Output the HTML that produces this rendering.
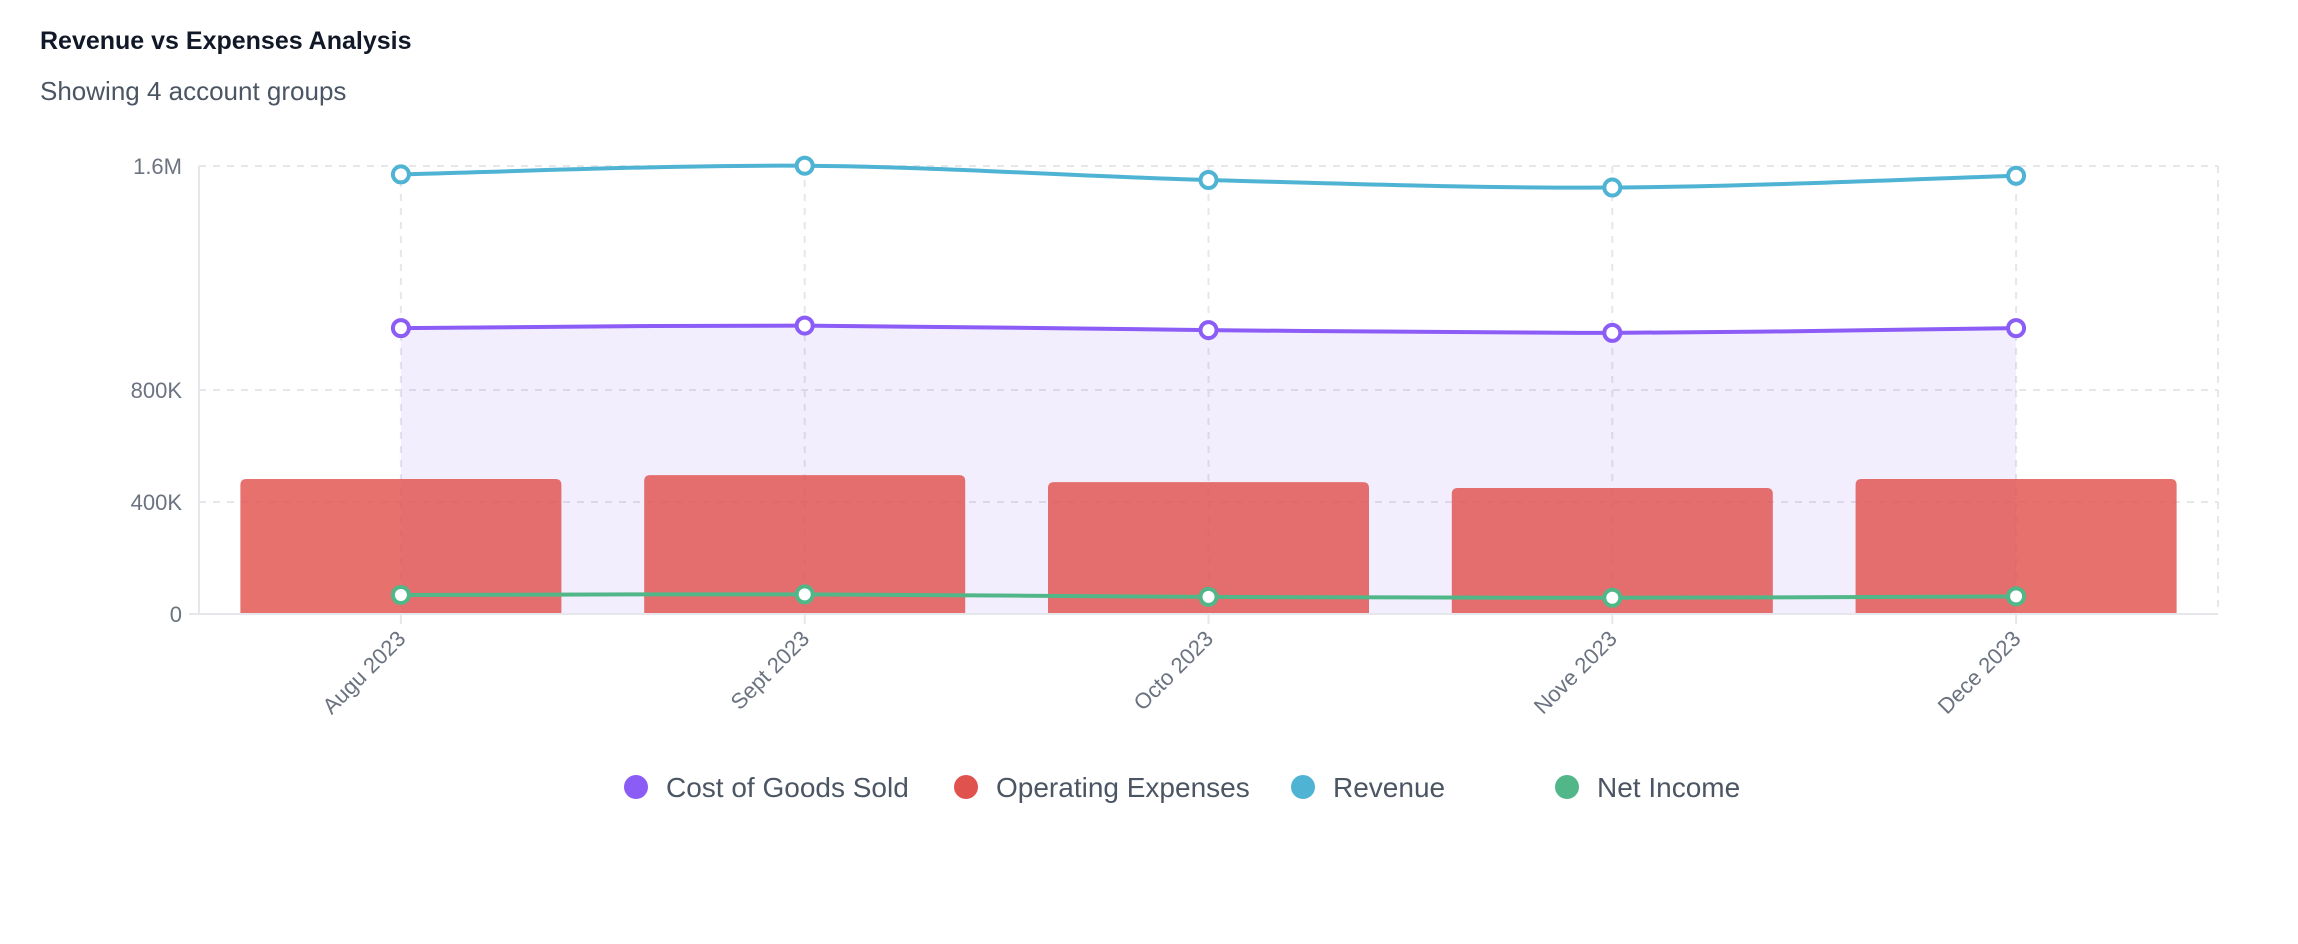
<!DOCTYPE html>
<html><head><meta charset="utf-8"><style>
html,body{margin:0;padding:0;background:#fff;width:2298px;height:944px;overflow:hidden;font-family:"Liberation Sans",sans-serif}
svg text{font-family:"Liberation Sans",sans-serif}
</style></head><body>
<svg id="chart" width="2298" height="944" xmlns="http://www.w3.org/2000/svg">
<text x="40" y="49" font-size="25" font-weight="bold" fill="#111827">Revenue vs Expenses Analysis</text>
<text x="40" y="100" font-size="26" fill="#4b5563">Showing 4 account groups</text>
<g id="grid"></g>
<g id="area"></g>
<g id="bars"></g>
<g id="lines"></g>
<g id="axes"></g>
<g id="legend"></g>
</svg>
<script>
const categories = ["Augu 2023","Sept 2023","Octo 2023","Nove 2023","Dece 2023"];
const cogs = [1021000,1030000,1014000,1004000,1021000];
const opex = [482000,496000,471000,450000,482000];
const revenue = [1570000,1601000,1550000,1523000,1565000];
const netIncome = [68000,70000,61000,58000,63000];
const yTicks = [0,400000,800000,1600000];
const yTickLabels = ["0","400K","800K","1.6M"];
const legendLabels = ["Cost of Goods Sold","Operating Expenses","Revenue","Net Income"];
const legendColors = ["#8b5cf6","#e0524d","#4fb3d4","#52b788"];

const NS="http://www.w3.org/2000/svg";
const L=199,R=2218,T=166,B=614,yMax=1600000;
const band=(R-L)/categories.length;
const x=i=>L+band*(i+0.5);
const y=v=>B-(v/yMax)*(B-T);
function mk(tag,attrs,parent){const e=document.createElementNS(NS,tag);for(const k in attrs)e.setAttribute(k,attrs[k]);parent.appendChild(e);return e;}
const grid=document.getElementById('grid'),axes=document.getElementById('axes');
yTicks.forEach((t,i)=>{
  const g=mk('line',{x1:L,x2:R,y1:y(t),y2:y(t),stroke:'#e5e7eb','stroke-width':2,'stroke-dasharray':t===0?'':'7,7'},grid);
  
  
  const tx=mk('text',{x:182,y:y(t)+8,'font-size':22,fill:'#6b7280','text-anchor':'end'},axes);
  tx.textContent=yTickLabels[i];
  
  
});
categories.forEach((c,i)=>{
  const g=mk('line',{x1:x(i),x2:x(i),y1:T,y2:B,stroke:'#e5e7eb','stroke-width':2,'stroke-dasharray':'7,7'},grid);
  
  
  const tk=mk('line',{x1:x(i),x2:x(i),y1:B,y2:B+10,stroke:'#e5e7eb','stroke-width':2},axes);
  
  
  const tx=mk('text',{x:x(i)+6,y:B+26,'font-size':22,fill:'#6b7280','text-anchor':'end',transform:`rotate(-45 ${x(i)+6} ${B+26})`},axes);
  tx.textContent=c;
  
  
});
const rb=mk('line',{x1:R,x2:R,y1:T,y2:B,stroke:'#e5e7eb','stroke-width':2,'stroke-dasharray':'7,7'},grid);


const yax=mk('line',{x1:L,x2:L,y1:T,y2:B,stroke:'#e5e7eb','stroke-width':2},axes);


const xax=mk('line',{x1:L-10,x2:R,y1:B,y2:B,stroke:'#e5e7eb','stroke-width':2},axes);



function smooth(vals){
  const p=vals.map((v,i)=>[x(i),y(v)]);
  let d=`M${p[0][0]},${p[0][1]}`;
  for(let i=0;i<p.length-1;i++){
    const p0=p[i-1]||p[i],p1=p[i],p2=p[i+1],p3=p[i+2]||p2;
    const c1=[p1[0]+(p2[0]-p0[0])/6,p1[1]+(p2[1]-p0[1])/6];
    const c2=[p2[0]-(p3[0]-p1[0])/6,p2[1]-(p3[1]-p1[1])/6];
    d+=` C${c1[0]},${c1[1]} ${c2[0]},${c2[1]} ${p2[0]},${p2[1]}`;
  }
  return d;
}
const area=document.getElementById('area');
const ap=mk('path',{d:smooth(cogs)+` L${x(cogs.length-1)},${B} L${x(0)},${B} Z`,fill:'#8b5cf6','fill-opacity':0.1},area);



const bars=document.getElementById('bars');
opex.forEach((v,i)=>{
  const w=band*0.795;
  const b=mk('path',{d:`M${x(i)-w/2},${B} V${y(v)+6} Q${x(i)-w/2},${y(v)} ${x(i)-w/2+6},${y(v)} H${x(i)+w/2-6} Q${x(i)+w/2},${y(v)} ${x(i)+w/2},${y(v)+6} V${B} Z`,fill:'#e0524d','fill-opacity':0.82},bars);
  
  
});
const lines=document.getElementById('lines');
[[revenue,'#4fb3d4','revenue'],[cogs,'#8b5cf6','cogs'],[netIncome,'#52b788','net-income']].forEach(([vals,col,nm])=>{
  const pl=mk('path',{d:smooth(vals),fill:'none',stroke:col,'stroke-width':4},lines);
  
  
  vals.forEach((v,i)=>{
    const c=mk('circle',{cx:x(i),cy:y(v),r:8,fill:'#fff',stroke:col,'stroke-width':4},lines);
    
    
  });
});
const legend=document.getElementById('legend');
const lx=[636,966,1303,1567];
legendLabels.forEach((lab,i)=>{
  const g=mk('g',{},legend);
  
  
  mk('circle',{cx:lx[i],cy:787,r:12,fill:legendColors[i]},g);
  const t=mk('text',{x:lx[i]+30,y:797,'font-size':28,fill:'#4b5563'},g);
  t.textContent=lab;
});
</script>
</body></html>
